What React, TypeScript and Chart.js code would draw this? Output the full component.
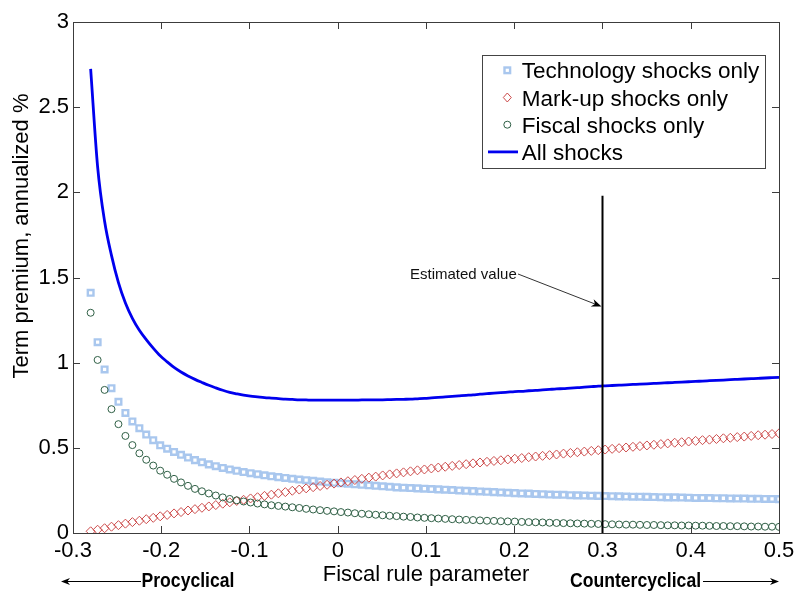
import React, { useEffect, useRef } from "react";
import { Chart, registerables } from "chart.js";
Chart.register(...registerables);

// Fiscal rule parameter grid (x values)
const fiscalRule = [
  -0.2800, -0.2721, -0.2642, -0.2564, -0.2485, -0.2406, -0.2327, -0.2248, -0.2170, -0.2091,
  -0.2012, -0.1933, -0.1855, -0.1776, -0.1697, -0.1618, -0.1539, -0.1461, -0.1382, -0.1303,
  -0.1224, -0.1145, -0.1067, -0.0988, -0.0909, -0.0830, -0.0752, -0.0673, -0.0594, -0.0515,
  -0.0436, -0.0358, -0.0279, -0.0200, -0.0121, -0.0042, 0.0036, 0.0115, 0.0194, 0.0273,
  0.0352, 0.0430, 0.0509, 0.0588, 0.0667, 0.0745, 0.0824, 0.0903, 0.0982, 0.1061,
  0.1139, 0.1218, 0.1297, 0.1376, 0.1455, 0.1533, 0.1612, 0.1691, 0.1770, 0.1848,
  0.1927, 0.2006, 0.2085, 0.2164, 0.2242, 0.2321, 0.2400, 0.2479, 0.2558, 0.2636,
  0.2715, 0.2794, 0.2873, 0.2952, 0.3030, 0.3109, 0.3188, 0.3267, 0.3345, 0.3424,
  0.3503, 0.3582, 0.3661, 0.3739, 0.3818, 0.3897, 0.3976, 0.4055, 0.4133, 0.4212,
  0.4291, 0.4370, 0.4448, 0.4527, 0.4606, 0.4685, 0.4764, 0.4842, 0.4921, 0.5000,
];

const technology = [
  1.41, 1.12, 0.96, 0.85, 0.77, 0.705, 0.655, 0.615, 0.578, 0.545,
  0.515, 0.495, 0.476, 0.459, 0.443, 0.428, 0.415, 0.403, 0.392, 0.382,
  0.373, 0.365, 0.358, 0.351, 0.345, 0.339, 0.333, 0.328, 0.323, 0.318,
  0.314, 0.310, 0.306, 0.302, 0.298, 0.295, 0.292, 0.289, 0.286, 0.283,
  0.280, 0.277, 0.274, 0.271, 0.268, 0.266, 0.264, 0.262, 0.260, 0.258,
  0.256, 0.254, 0.252, 0.250, 0.248, 0.246, 0.244, 0.242, 0.240, 0.238,
  0.236, 0.234, 0.232, 0.231, 0.229, 0.228, 0.226, 0.225, 0.224, 0.222,
  0.221, 0.220, 0.219, 0.218, 0.217, 0.216, 0.215, 0.214, 0.213, 0.213,
  0.212, 0.211, 0.210, 0.209, 0.209, 0.208, 0.207, 0.206, 0.206, 0.205,
  0.204, 0.204, 0.203, 0.202, 0.202, 0.201, 0.201, 0.200, 0.200, 0.199,
];

const markup = [
  0.010, 0.019, 0.028, 0.037, 0.046, 0.055, 0.064, 0.072, 0.081, 0.089,
  0.098, 0.106, 0.115, 0.123, 0.132, 0.140, 0.148, 0.156, 0.164, 0.172,
  0.180, 0.188, 0.195, 0.203, 0.210, 0.218, 0.225, 0.233, 0.240, 0.248,
  0.255, 0.262, 0.269, 0.276, 0.283, 0.290, 0.297, 0.304, 0.311, 0.318,
  0.325, 0.331, 0.338, 0.344, 0.350, 0.356, 0.362, 0.368, 0.373, 0.379,
  0.384, 0.389, 0.394, 0.399, 0.404, 0.409, 0.414, 0.418, 0.423, 0.427,
  0.432, 0.436, 0.440, 0.445, 0.449, 0.453, 0.457, 0.461, 0.466, 0.470,
  0.474, 0.478, 0.482, 0.486, 0.490, 0.494, 0.498, 0.502, 0.506, 0.510,
  0.514, 0.518, 0.522, 0.526, 0.530, 0.533, 0.537, 0.541, 0.545, 0.548,
  0.552, 0.556, 0.559, 0.563, 0.566, 0.570, 0.574, 0.577, 0.581, 0.585,
];

const fiscal = [
  1.293, 1.016, 0.84, 0.727, 0.639, 0.57, 0.516, 0.468, 0.43, 0.396,
  0.366, 0.342, 0.318, 0.297, 0.277, 0.259, 0.245, 0.232, 0.220, 0.209,
  0.200, 0.192, 0.185, 0.179, 0.173, 0.168, 0.163, 0.159, 0.155, 0.151,
  0.147, 0.142, 0.138, 0.134, 0.130, 0.127, 0.123, 0.120, 0.116, 0.113,
  0.110, 0.107, 0.104, 0.101, 0.099, 0.096, 0.094, 0.091, 0.089, 0.087,
  0.085, 0.083, 0.081, 0.079, 0.077, 0.076, 0.074, 0.072, 0.071, 0.069,
  0.068, 0.067, 0.065, 0.064, 0.063, 0.062, 0.060, 0.059, 0.058, 0.057,
  0.056, 0.055, 0.054, 0.053, 0.052, 0.051, 0.050, 0.049, 0.049, 0.048,
  0.047, 0.047, 0.046, 0.045, 0.045, 0.044, 0.044, 0.043, 0.043, 0.042,
  0.041, 0.041, 0.040, 0.040, 0.039, 0.038, 0.038, 0.037, 0.037, 0.036,
];

const allShocks = [
  2.725, 2.15, 1.83, 1.63, 1.47, 1.35, 1.26, 1.19, 1.135, 1.085,
  1.04, 1.005, 0.972, 0.945, 0.922, 0.902, 0.884, 0.867, 0.852, 0.838,
  0.826, 0.817, 0.809, 0.803, 0.799, 0.795, 0.792, 0.789, 0.786, 0.784,
  0.782, 0.781, 0.780, 0.780, 0.780, 0.780, 0.780, 0.780, 0.780, 0.781,
  0.781, 0.782, 0.782, 0.783, 0.784, 0.785, 0.786, 0.788, 0.790, 0.793,
  0.796, 0.799, 0.802, 0.805, 0.808, 0.811, 0.815, 0.818, 0.821, 0.824,
  0.827, 0.830, 0.832, 0.835, 0.837, 0.840, 0.843, 0.846, 0.848, 0.851,
  0.853, 0.856, 0.859, 0.862, 0.864, 0.866, 0.868, 0.870, 0.872, 0.874,
  0.876, 0.878, 0.880, 0.882, 0.884, 0.886, 0.888, 0.890, 0.892, 0.894,
  0.896, 0.898, 0.900, 0.902, 0.904, 0.906, 0.908, 0.910, 0.912, 0.914,
];

const xTicks = [-0.3, -0.2, -0.1, 0, 0.1, 0.2, 0.3, 0.4, 0.5];
const yTicks = [0, 0.5, 1, 1.5, 2, 2.5, 3];
const legendLabels = ["Technology shocks only", "Mark-up shocks only", "Fiscal shocks only", "All shocks"];
const estimatedValue = 0.3;
const estimatedLineTop = 1.98;

const FONT = 'Arial, "Liberation Sans", sans-serif';
const C_TECH = "#a9c7ee";
const C_MARK = "#cc4a4a";
const C_FISC = "#2f5f45";
const C_ALL = "#0000ee";
const C_AXIS = "#3c3c3c";

function drawArrowHead(ctx: CanvasRenderingContext2D, x: number, y: number, angle: number, len: number, half: number) {
  ctx.save();
  ctx.translate(x, y);
  ctx.rotate(angle);
  ctx.beginPath();
  ctx.moveTo(0, 0);
  ctx.lineTo(-len, -half);
  ctx.lineTo(-len * 0.7, 0);
  ctx.lineTo(-len, half);
  ctx.closePath();
  ctx.fill();
  ctx.restore();
}

export default function App() {
  const ref = useRef<HTMLCanvasElement>(null);
  useEffect(() => {
    const pts = (ys: number[]) => fiscalRule.map((x, i) => ({ x, y: ys[i] }));
    const overlay = {
      id: "overlay",
      afterDraw(chart: any) {
        const ctx: CanvasRenderingContext2D = chart.ctx;
        const a = chart.chartArea;
        const xs = chart.scales.x;
        const ys = chart.scales.y;
        ctx.save();
        // box
        ctx.strokeStyle = C_AXIS;
        ctx.lineWidth = 1;
        ctx.strokeRect(Math.round(a.left) + 0.5, Math.round(a.top) + 0.5, Math.round(a.right - a.left), Math.round(a.bottom - a.top));
        // inward ticks
        ctx.beginPath();
        xTicks.forEach((v) => {
          const px = Math.round(xs.getPixelForValue(v)) + 0.5;
          ctx.moveTo(px, a.bottom);
          ctx.lineTo(px, a.bottom - 7);
          ctx.moveTo(px, a.top);
          ctx.lineTo(px, a.top + 7);
        });
        yTicks.forEach((v) => {
          const py = Math.round(ys.getPixelForValue(v)) + 0.5;
          ctx.moveTo(a.left, py);
          ctx.lineTo(a.left + 7, py);
          ctx.moveTo(a.right, py);
          ctx.lineTo(a.right - 7, py);
        });
        ctx.stroke();

        // estimated value vertical line
        const vx = xs.getPixelForValue(estimatedValue);
        ctx.strokeStyle = "#000";
        ctx.lineWidth = 2;
        ctx.beginPath();
        ctx.moveTo(vx, ys.getPixelForValue(0));
        ctx.lineTo(vx, ys.getPixelForValue(estimatedLineTop));
        ctx.stroke();

        // annotation
        ctx.fillStyle = "#111";
        ctx.font = `15px ${FONT}`;
        ctx.textAlign = "left";
        ctx.textBaseline = "alphabetic";
        ctx.fillText("Estimated value", 410, 279);
        const ax0 = 518, ay0 = 274, ax1 = vx - 1, ay1 = 306.5;
        ctx.strokeStyle = "#333";
        ctx.lineWidth = 1;
        ctx.beginPath();
        ctx.moveTo(ax0, ay0);
        ctx.lineTo(ax1 - 6, ay1 - 2.3);
        ctx.stroke();
        ctx.fillStyle = "#000";
        drawArrowHead(ctx, ax1, ay1, Math.atan2(ay1 - ay0, ax1 - ax0), 10, 4);

        // legend
        const lx0 = 482.5, ly0 = 55.5, lx1 = 765.5, ly1 = 168.5;
        ctx.fillStyle = "#fff";
        ctx.fillRect(lx0, ly0, lx1 - lx0, ly1 - ly0);
        ctx.strokeStyle = "#444";
        ctx.lineWidth = 1;
        ctx.strokeRect(lx0, ly0, lx1 - lx0, ly1 - ly0);
        const rowsY = [70.3, 97.5, 124.7, 151.9];
        const mx = 507.3;
        // square
        ctx.strokeStyle = C_TECH;
        ctx.lineWidth = 2.4;
        ctx.strokeRect(mx - 2.8, rowsY[0] - 2.8, 5.6, 5.6);
        // diamond
        ctx.strokeStyle = C_MARK;
        ctx.lineWidth = 1;
        ctx.beginPath();
        ctx.moveTo(mx - 4, rowsY[1]);
        ctx.lineTo(mx, rowsY[1] - 4.5);
        ctx.lineTo(mx + 4, rowsY[1]);
        ctx.lineTo(mx, rowsY[1] + 4.5);
        ctx.closePath();
        ctx.stroke();
        // circle
        ctx.strokeStyle = C_FISC;
        ctx.beginPath();
        ctx.arc(mx, rowsY[2], 3.5, 0, Math.PI * 2);
        ctx.stroke();
        // line
        ctx.strokeStyle = C_ALL;
        ctx.lineWidth = 2.8;
        ctx.beginPath();
        ctx.moveTo(488, rowsY[3]);
        ctx.lineTo(518, rowsY[3]);
        ctx.stroke();
        ctx.fillStyle = "#000";
        ctx.font = `22.5px ${FONT}`;
        legendLabels.forEach((t, i) => ctx.fillText(t, 521.7, rowsY[i] + 8));

        // axis titles
        ctx.font = `22px ${FONT}`;
        ctx.textAlign = "center";
        ctx.fillText("Fiscal rule parameter", (a.left + a.right) / 2, 581);
        ctx.save();
        ctx.translate(22, 236);
        ctx.rotate(-Math.PI / 2);
        ctx.textBaseline = "middle";
        ctx.fillText("Term premium, annualized %", 0, 0);
        ctx.restore();

        // procyclical / countercyclical
        ctx.font = `bold 20px ${FONT}`;
        ctx.textAlign = "left";
        ctx.textBaseline = "alphabetic";
        ctx.save();
        ctx.translate(141.5, 587.3);
        ctx.scale(0.88, 1);
        ctx.fillText("Procyclical", 0, 0);
        ctx.restore();
        ctx.save();
        ctx.translate(570, 587.3);
        ctx.scale(0.88, 1);
        ctx.fillText("Countercyclical", 0, 0);
        ctx.restore();
        ctx.strokeStyle = "#000";
        ctx.lineWidth = 1;
        ctx.beginPath();
        ctx.moveTo(141, 581.5);
        ctx.lineTo(66, 581.5);
        ctx.moveTo(703, 581.5);
        ctx.lineTo(774, 581.5);
        ctx.stroke();
        drawArrowHead(ctx, 61, 581.5, Math.PI, 9, 3.5);
        drawArrowHead(ctx, 779, 581.5, 0, 9, 3.5);
        ctx.restore();
      },
    };

    const chart = new Chart(ref.current as HTMLCanvasElement, {
      type: "scatter",
      data: {
        datasets: [
          {
            label: legendLabels[3],
            data: pts(allShocks),
            showLine: true,
            borderColor: C_ALL,
            borderWidth: 2.8,
            pointRadius: 0,
            cubicInterpolationMode: "monotone",
          } as any,
          {
            label: legendLabels[2],
            data: pts(fiscal),
            pointStyle: "circle",
            pointRadius: 3.5,
            borderColor: C_FISC,
            backgroundColor: "rgba(0,0,0,0)",
            borderWidth: 1,
          },
          {
            label: legendLabels[1],
            data: pts(markup),
            pointStyle: "rectRot",
            pointRadius: 4.5,
            borderColor: C_MARK,
            backgroundColor: "rgba(0,0,0,0)",
            borderWidth: 1,
          },
          {
            label: legendLabels[0],
            data: pts(technology),
            pointStyle: "rect",
            pointRadius: 4,
            borderColor: C_TECH,
            backgroundColor: "rgba(0,0,0,0)",
            borderWidth: 2.4,
          },
        ],
      },
      options: {
        animation: false,
        responsive: true,
        maintainAspectRatio: false,
        layout: { padding: { left: 0, right: 16, top: 22, bottom: 0 } },
        plugins: { legend: { display: false }, tooltip: { enabled: false } },
        scales: {
          x: {
            type: "linear",
            min: -0.3,
            max: 0.5,
            afterBuildTicks: (s: any) => {
              s.ticks = xTicks.map((v) => ({ value: v }));
            },
            afterFit: (s: any) => {
              s.height = 58;
              s.paddingLeft = 0;
              s.paddingRight = 0;
            },
            grid: { display: false, drawTicks: false },
            border: { display: false },
            ticks: {
              color: "#000",
              font: { family: FONT, size: 22 },
              padding: 5,
              maxRotation: 0,
              autoSkip: false,
              callback: (v: any) => String(v),
            },
          },
          y: {
            type: "linear",
            min: 0,
            max: 3,
            afterBuildTicks: (s: any) => {
              s.ticks = yTicks.map((v) => ({ value: v }));
            },
            afterFit: (s: any) => {
              s.width = 73;
              s.paddingTop = 0;
              s.paddingBottom = 0;
            },
            grid: { display: false, drawTicks: false },
            border: { display: false },
            ticks: {
              color: "#000",
              font: { family: FONT, size: 22 },
              padding: 4,
              autoSkip: false,
              callback: (v: any) => String(v),
            },
          },
        },
      },
      plugins: [overlay],
    });
    return () => chart.destroy();
  }, []);
  return (
    <div style={{ position: "absolute", left: 0, top: 0, width: 795, height: 591, background: "#fff" }}>
      <canvas ref={ref} />
    </div>
  );
}
